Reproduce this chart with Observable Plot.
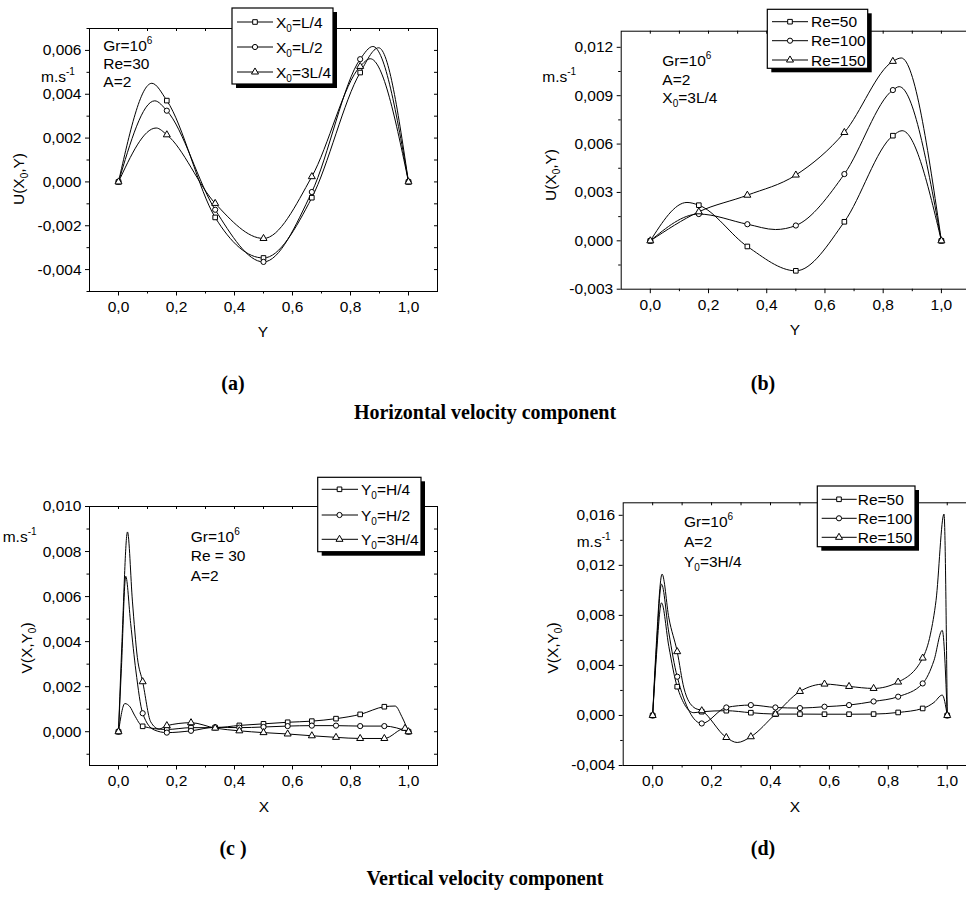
<!DOCTYPE html>
<html><head><meta charset="utf-8">
<script src="https://cdn.jsdelivr.net/npm/d3@7"></script>
<script src="https://cdn.jsdelivr.net/npm/@observablehq/plot@0.6"></script>
<style>
body{margin:0;background:#fff;overflow:hidden}
#root{position:relative;width:966px;height:900px;overflow:hidden;font-family:"Liberation Sans",Arial,sans-serif;color:#000;background:#fff}
.t{position:absolute;font-size:15.5px;white-space:nowrap;line-height:1;transform:translateY(-50%)}
.c{position:absolute;font-size:15.5px;white-space:nowrap;line-height:1;transform:translate(-50%,-50%)}
.r{position:absolute;font-size:15.5px;white-space:nowrap;line-height:1;transform:translate(-50%,-50%) rotate(-90deg)}
.cap{position:absolute;font-family:"Liberation Serif","Times New Roman",serif;font-weight:bold;font-size:20px;white-space:nowrap;line-height:1;transform:translate(-50%,-50%)}
sup{font-size:10px;vertical-align:7px;line-height:0}
sub{font-size:10px;vertical-align:-4px;line-height:0}
</style></head><body><div id="root"></div>
<script>
// ---------- DATA ----------
// x ticks (shared)
const xMajor = [0, 0.2, 0.4, 0.6, 0.8, 1.0];
const xMinor = [0.1, 0.3, 0.5, 0.7, 0.9];

// (a) Horizontal velocity, Gr=1e6, Re=30, A=2
const yA = [0, 1/6, 1/3, 1/2, 2/3, 5/6, 1];
const uA_L4  = [0, 0.00371, -0.00162, -0.00347, -0.00072, 0.00499, 0];
const uA_L2  = [0, 0.00325, -0.00127, -0.00365, -0.00046, 0.00560, 0];
const uA_3L4 = [0, 0.00215, -0.00098, -0.00258,  0.00024, 0.00527, 0];
const yA_L4_x  = [0.115, 0.897];  const uA_L4_x  = [0.00450, 0.00612];
const yA_L2_x  = [0.125, 0.877];  const uA_L2_x  = [0.00370, 0.00618];
const yA_3L4_x = [0.130, 0.868];  const uA_3L4_x = [0.00246, 0.00562];
const yTicksA = [-0.004, -0.002, 0, 0.002, 0.004, 0.006];
const yMinorA = [-0.005, -0.003, -0.001, 0.001, 0.003, 0.005, 0.007];

// (b) Horizontal velocity, X0=3L/4
const yB = [0, 1/6, 1/3, 1/2, 2/3, 5/6, 1];
const uB_50  = [0, 0.00221, -0.00035, -0.00186, 0.00118, 0.00652, 0];
const uB_100 = [0, 0.00166,  0.00103,  0.00095, 0.00414, 0.00935, 0];
const uB_150 = [0, 0.00180,  0.00283,  0.00408, 0.00672, 0.01113, 0];
const yB_50_x  = [0.126, 0.865]; const uB_50_x  = [0.00238, 0.00683];
const yB_100_x = [0.430, 0.855]; const uB_100_x = [0.00070, 0.00956];
const yB_150_x = [0.862];        const uB_150_x = [0.01134];
const yTicksB = [-0.003, 0, 0.003, 0.006, 0.009, 0.012];
const yMinorB = [-0.0015, 0.0015, 0.0045, 0.0075, 0.0105];

// (c) Vertical velocity, Gr=1e6, Re=30, A=2
const xC = [0, 1/12, 2/12, 3/12, 4/12, 5/12, 6/12, 7/12, 8/12, 9/12, 10/12, 11/12, 1];
const xC_3H4 = [0, 1/12, 2/12, 3/12, 4/12, 5/12, 6/12, 7/12, 8/12, 9/12, 10/12, 11/12, 0.988, 1];
const vC_H4  = [0, 0.00024, 0.00010, 0.00018, 0.00018, 0.00028, 0.00035, 0.00042, 0.00047, 0.00058, 0.00077, 0.00111, 0];
const vC_H2  = [0, 0.00082, -0.00004, 0.00004, 0.00020, 0.00018, 0.00021, 0.00025, 0.00027, 0.00027, 0.00025, 0.00025, 0];
const vC_3H4 = [0, 0.00222, 0.00027, 0.00040, 0.00016, 0.00004, -0.00004, -0.00010, -0.00018, -0.00025, -0.00030, -0.00030, 0.00015, 0];
const xC_H4_x  = [0.022, 0.040, 0.055, 0.954, 0.977];
const vC_H4_x  = [0.00125, 0.00110, 0.00074, 0.00114, 0.00067];
const xC_H2_x  = [0.010, 0.025, 0.042, 0.060, 0.123];
const vC_H2_x  = [0.00280, 0.00690, 0.00480, 0.00270, 0.00008];
const xC_3H4_x = [0.012, 0.031, 0.048, 0.065, 0.111, 0.140];
const vC_3H4_x = [0.00400, 0.00887, 0.00580, 0.00330, 0.00044, 0.00012];
const yTicksC = [0, 0.002, 0.004, 0.006, 0.008, 0.010];
const yMinorC = [-0.001, 0.001, 0.003, 0.005, 0.007, 0.009];

// (d) Vertical velocity, Y0=3H/4
const xD = [0, 1/12, 2/12, 3/12, 4/12, 5/12, 6/12, 7/12, 8/12, 9/12, 10/12, 11/12, 1];
const vD_50  = [0, 0.00230, 0.00030, 0.00038, 0.00022, 0.00011, 0.00011, 0.00010, 0.00010, 0.00011, 0.00024, 0.00056, 0];
const vD_100 = [0, 0.00310, -0.00064, 0.00064, 0.00083, 0.00064, 0.00059, 0.00070, 0.00083, 0.00112, 0.00150, 0.00256, 0];
const vD_150 = [0, 0.00510, 0.00038, -0.00176, -0.00170, 0.00011, 0.00192, 0.00251, 0.00232, 0.00216, 0.00267, 0.00459, 0];
const xD_50_x  = [0.012, 0.030, 0.055, 0.140, 0.955, 0.983];
const vD_50_x  = [0.00450, 0.00900, 0.00550, 0.00022, 0.00104, 0.00163];
const xD_100_x = [0.012, 0.030, 0.055, 0.955, 0.983];
const vD_100_x = [0.00500, 0.01050, 0.00660, 0.00440, 0.00680];
const xD_150_x = [0.012, 0.032, 0.055, 0.106, 0.140, 0.287, 0.943, 0.962, 0.989];
const vD_150_x = [0.00550, 0.01130, 0.00780, 0.00220, 0.00064, -0.00216, 0.00650, 0.00920, 0.01610];
const yTicksD = [-0.004, 0, 0.004, 0.008, 0.012, 0.016];
const yMinorD = [-0.002, 0.002, 0.006, 0.010, 0.014];

// ---------- HELPERS ----------
const root = document.getElementById("root");
const fmt3 = d => d.toFixed(3).replace(".", ",");
const fmt1 = d => d.toFixed(1).replace(".", ",");
const blank = () => "";

function series(xm, ym, xe, ye, symbol) {
  const pts = xm.map((x, i) => ({x, y: ym[i], m: true}))
    .concat(xe.map((x, i) => ({x, y: ye[i], m: false})));
  pts.sort((a, b) => a.x - b.x);
  return {pts, symbol};
}

function panel(o) {
  const marks = [
    Plot.axisX({ticks: xMajor, tickFormat: fmt1, tickSize: 4.5, tickPadding: 5, label: null}),
    Plot.axisX({ticks: xMinor, tickFormat: blank, tickSize: 2.5, label: null}),
    Plot.axisX({anchor: "bottom", frameAnchor: "top", ticks: xMajor.concat(xMinor), tickFormat: blank, tickSize: 3, label: null}),
    Plot.axisY({ticks: o.yMajor, tickFormat: fmt3, tickSize: 4, tickPadding: 4, label: null}),
    Plot.axisY({ticks: o.yMinor, tickFormat: blank, tickSize: 2.5, label: null}),
    Plot.axisY({anchor: "left", frameAnchor: "right", ticks: o.yMajor.concat(o.yMinor), tickFormat: blank, tickSize: 3, label: null}),
    Plot.frame({stroke: "black", strokeWidth: 1})
  ];
  for (const s of o.series) marks.push(Plot.line(s.pts, {x: "x", y: "y", curve: "monotone-x", stroke: "black", strokeWidth: 1}));
  for (const s of o.series) marks.push(Plot.dot(s.pts.filter(d => d.m), {x: "x", y: "y", symbol: s.symbol, r: 2.6, fill: "white", stroke: "black", strokeWidth: 1}));
  const svg = Plot.plot({
    width: o.width, height: o.height,
    marginLeft: o.mL, marginRight: o.mR, marginTop: o.mT, marginBottom: o.mB,
    x: {domain: [-0.1, 1.1]},
    y: {domain: o.yDomain},
    marks,
    style: {fontFamily: "'Liberation Sans', Arial, sans-serif", fontSize: "15.5px", color: "black", background: "transparent", overflow: "visible"}
  });
  svg.style.position = "absolute";
  svg.style.left = o.left + "px";
  svg.style.top = o.top + "px";
  root.appendChild(svg);
}

function html(cls, x, y, content) {
  const d = document.createElement("div");
  d.className = cls;
  d.style.left = x + "px";
  d.style.top = y + "px";
  d.innerHTML = content;
  root.appendChild(d);
}

// ---------- PANELS ----------
panel({left: 0, top: 0, width: 480, height: 340, mL: 89, mR: 43, mT: 28, mB: 49,
  yDomain: [-0.005, 0.007], yMajor: yTicksA, yMinor: yMinorA,
  series: [
    series(yA, uA_L4, yA_L4_x, uA_L4_x, "square"),
    series(yA, uA_L2, yA_L2_x, uA_L2_x, "circle"),
    series(yA, uA_3L4, yA_3L4_x, uA_3L4_x, "triangle")
  ]});

panel({left: 480, top: 0, width: 500, height: 340, mL: 140.7, mR: 10, mT: 30.7, mB: 51.3,
  yDomain: [-0.003, 0.013], yMajor: yTicksB, yMinor: yMinorB,
  series: [
    series(yB, uB_50, yB_50_x, uB_50_x, "square"),
    series(yB, uB_100, yB_100_x, uB_100_x, "circle"),
    series(yB, uB_150, yB_150_x, uB_150_x, "triangle")
  ]});

panel({left: 0, top: 440, width: 480, height: 360, mL: 89, mR: 43, mT: 66, mB: 35,
  yDomain: [-0.0015, 0.010], yMajor: yTicksC, yMinor: yMinorC,
  series: [
    series(xC, vC_H4, xC_H4_x, vC_H4_x, "square"),
    series(xC, vC_H2, xC_H2_x, vC_H2_x, "circle"),
    series(xC_3H4, vC_3H4, xC_3H4_x, vC_3H4_x, "triangle")
  ]});

panel({left: 480, top: 440, width: 500, height: 360, mL: 142.7, mR: 3.8, mT: 62.3, mB: 35,
  yDomain: [-0.004, 0.017], yMajor: yTicksD, yMinor: yMinorD,
  series: [
    series(xD, vD_50, xD_50_x, vD_50_x, "square"),
    series(xD, vD_100, xD_100_x, vD_100_x, "circle"),
    series(xD, vD_150, xD_150_x, vD_150_x, "triangle")
  ]});

// ---------- TEXT ----------
const ms = "m.s<sup>-1</sup>";
// (a)
html("t", 41, 77, ms);
html("t", 103.3, 46, "Gr=10<sup>6</sup>");
html("t", 103.3, 63.5, "Re=30");
html("t", 103.3, 82, "A=2");
html("c", 263, 332, "Y");
html("r", 19, 179, "U(X<sub>0</sub>,Y)");
// (b)
html("t", 542.3, 77, ms);
html("t", 662.3, 61, "Gr=10<sup>6</sup>");
html("t", 662.3, 80, "A=2");
html("t", 662.3, 98, "X<sub>0</sub>=3L/4");
html("c", 795, 330, "Y");
html("r", 551, 175, "U(X<sub>0</sub>,Y)");
// (c)
html("t", 2.7, 537, ms);
html("t", 190.7, 536.7, "Gr=10<sup>6</sup>");
html("t", 190.7, 556, "Re = 30");
html("t", 190.7, 576, "A=2");
html("c", 264, 807, "X");
html("r", 27, 648, "V(X,Y<sub>0</sub>)");
// (d)
html("t", 576.7, 541.7, ms);
html("t", 684, 521.7, "Gr=10<sup>6</sup>");
html("t", 684, 541.7, "A=2");
html("t", 684, 561.7, "Y<sub>0</sub>=3H/4");
html("c", 795, 807, "X");
html("r", 553, 648, "V(X,Y<sub>0</sub>)");
// captions
html("cap", 233, 383, "(a)");
html("cap", 763, 383, "(b)");
html("cap", 485, 412, "Horizontal velocity component");
html("cap", 233, 848, "(c )");
html("cap", 763, 848, "(d)");
html("cap", 485, 878, "Vertical velocity component");

// ---------- LEGENDS ----------
const legendA = ["X|0|=L/4", "X|0|=L/2", "X|0|=3L/4"];
const legendB = ["Re=50", "Re=100", "Re=150"];
const legendC = ["Y|0|=H/4", "Y|0|=H/2", "Y|0|=3H/4"];
const legendD = ["Re=50", "Re=100", "Re=150"];
const symbols = [d3.symbolSquare, d3.symbolCircle, d3.symbolTriangle];

const ov = d3.create("svg").attr("width", 966).attr("height", 900)
  .style("position", "absolute").style("left", 0).style("top", 0)
  .style("font-family", "'Liberation Sans', Arial, sans-serif").style("font-size", "15.5px");
root.appendChild(ov.node());

function legend(labels, box, rows, lx1, lx2, mx, tx) {
  const g = ov.append("g");
  g.append("rect").attr("x", box[0] + 4).attr("y", box[1] + 4).attr("width", box[2]).attr("height", box[3]).attr("fill", "black");
  g.append("rect").attr("x", box[0]).attr("y", box[1]).attr("width", box[2]).attr("height", box[3]).attr("fill", "white").attr("stroke", "black").attr("stroke-width", 1.2);
  labels.forEach((lab, i) => {
    const y = rows[i];
    g.append("line").attr("x1", lx1).attr("x2", lx2).attr("y1", y).attr("y2", y).attr("stroke", "black");
    g.append("path").attr("d", d3.symbol(symbols[i], Math.PI * 2.6 * 2.6)()).attr("transform", `translate(${mx},${y})`).attr("fill", "white").attr("stroke", "black");
    const t = g.append("text").attr("x", tx).attr("y", y).attr("dy", "0.36em");
    const parts = lab.split("|");
    if (parts.length === 3) {
      t.append("tspan").text(parts[0]);
      t.append("tspan").attr("dy", 4).attr("font-size", "10px").text(parts[1]);
      t.append("tspan").attr("dy", -4).text(parts[2]);
    } else t.text(lab);
  });
}
legend(legendA, [232, 8, 101, 76], [22, 47, 72], 237, 273, 255, 276);
legend(legendB, [767.3, 9.3, 100.4, 59], [21.7, 40.7, 60], 772, 808, 790, 811);
legend(legendC, [317.7, 477.3, 103.3, 74.4], [489.3, 515, 539.3], 321.7, 358, 339.5, 361);
legend(legendD, [817.3, 486, 97.7, 60.7], [499.3, 518.3, 537.3], 821.7, 856.7, 839, 857.7);
</script>
</body></html>
